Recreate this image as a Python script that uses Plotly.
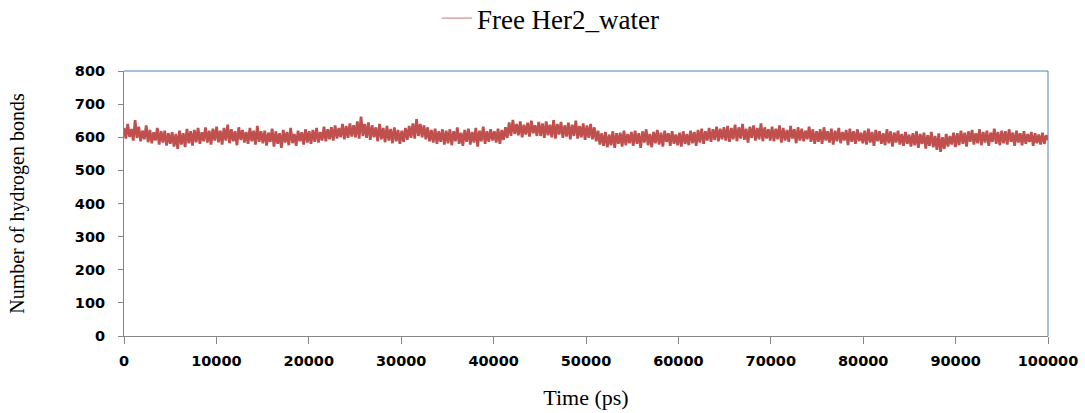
import numpy as np
import plotly.graph_objects as go

# Number of hydrogen bonds (500 samples, 0..100000 ps)
hbonds = [
    628, 596, 640, 601, 625, 590, 652, 598, 632, 588, 620, 594, 636, 585, 622, 582, 615, 590, 628, 578, 618, 584, 620, 575, 612,
    580, 615, 572, 610, 565, 620, 578, 612, 570, 625, 582, 618, 575, 622, 585, 628, 580, 615, 588, 630, 584, 620, 578, 626, 590,
    632, 585, 620, 578, 628, 590, 638, 582, 624, 588, 618, 576, 630, 592, 622, 584, 616, 580, 628, 588, 620, 578, 634, 586, 618,
    582, 620, 575, 614, 586, 626, 572, 618, 580, 612, 568, 622, 584, 616, 576, 628, 582, 610, 574, 620, 588, 615, 578, 624, 584,
    618, 580, 622, 586, 628, 584, 616, 590, 632, 588, 624, 594, 630, 590, 636, 596, 628, 600, 640, 594, 634, 598, 642, 602, 636,
    600, 648, 596, 662, 604, 640, 598, 645, 592, 636, 600, 630, 588, 640, 594, 628, 585, 634, 590, 625, 582, 630, 588, 622, 580,
    620, 586, 628, 592, 634, 598, 642, 596, 655, 604, 640, 600, 636, 594, 630, 588, 622, 584, 626, 580, 618, 586, 624, 578, 620,
    582, 624, 576, 618, 588, 630, 580, 614, 574, 622, 586, 626, 578, 616, 584, 628, 572, 620, 588, 632, 580, 618, 586, 624, 590,
    618, 584, 626, 580, 622, 592, 630, 598, 645, 604, 652, 610, 640, 606, 648, 600, 638, 608, 644, 602, 650, 612, 636, 604, 646,
    604, 642, 598, 648, 606, 638, 600, 652, 596, 640, 608, 646, 598, 636, 602, 644, 594, 638, 604, 650, 596, 634, 600, 642, 592,
    636, 598, 640, 594, 630, 588, 620, 578, 612, 574, 616, 570, 608, 576, 618, 568, 612, 580, 614, 572, 620, 576, 610, 582, 616,
    574, 620, 580, 612, 568, 618, 584, 624, 576, 610, 570, 616, 582, 622, 578, 614, 572, 620, 586, 612, 574, 618, 580, 608, 576,
    614, 572, 618, 580, 610, 576, 620, 582, 616, 574, 622, 584, 626, 580, 618, 590, 628, 586, 624, 592, 632, 588, 626, 594, 630,
    590, 634, 586, 628, 594, 638, 588, 630, 596, 640, 592, 626, 584, 632, 598, 636, 590, 628, 594, 642, 588, 630, 596, 624, 590,
    632, 588, 626, 594, 636, 584, 628, 590, 622, 586, 634, 596, 624, 582, 630, 590, 626, 588, 620, 594, 632, 586, 624, 580, 618,
    586, 624, 580, 630, 590, 618, 584, 626, 578, 620, 588, 628, 582, 616, 590, 622, 576, 626, 586, 618, 580, 624, 588, 614, 582,
    620, 578, 626, 584, 616, 574, 622, 588, 618, 580, 612, 576, 624, 582, 618, 572, 614, 584, 620, 578, 610, 574, 616, 580, 608,
    572, 612, 576, 618, 568, 610, 580, 614, 566, 606, 574, 616, 570, 604, 562, 612, 556, 600, 565, 610, 572, 604, 578, 614, 570,
    612, 576, 620, 580, 614, 572, 618, 586, 622, 578, 612, 582, 624, 576, 616, 584, 620, 574, 614, 586, 626, 580, 616, 576, 620,
    582, 618, 578, 624, 586, 614, 574, 620, 584, 612, 576, 618, 580, 610, 586, 616, 574, 612, 582, 608, 578, 614, 580, 606, 592,
]
time_ps = np.linspace(0, 100000, len(hbonds))
series_name = "Free Her2_water"

x_ticks = [0, 10000, 20000, 30000, 40000, 50000, 60000, 70000, 80000, 90000, 100000]
y_ticks = [0, 100, 200, 300, 400, 500, 600, 700, 800]

fig = go.Figure()
fig.add_trace(go.Scatter(
    x=time_ps, y=hbonds, mode="lines", name=series_name, legendgroup="s",
    line=dict(color="#C0504D", width=2.7), showlegend=False,
))
# legend entry with the thin sample line seen in the reference
fig.add_trace(go.Scatter(
    x=[None], y=[None], mode="lines", name=series_name, legendgroup="s",
    line=dict(color="#C98E8C", width=1.2), showlegend=True,
))

serif = "Liberation Serif"
tickfont = dict(family="DejaVu Sans", size=14.5, color="#000000", weight="bold")

fig.update_layout(
    width=1085, height=413,
    margin=dict(l=124, r=37, t=71, b=77),
    paper_bgcolor="white", plot_bgcolor="white",
    showlegend=True,
    legend=dict(orientation="h", x=0.462, xanchor="center", yref="container", y=0.955,
                yanchor="middle", font=dict(family=serif, size=27, color="#000000"),
                itemwidth=30, tracegroupgap=0),
    xaxis=dict(range=[0, 100000], tickmode="array", tickvals=x_ticks,
               ticktext=[str(v) for v in x_ticks], showgrid=False, zeroline=False,
               showline=True, linecolor="#868686", linewidth=1, automargin=False,
               ticks="outside", ticklen=7, tickcolor="#868686", tickfont=tickfont,
               ticklabelstandoff=5,
               title=dict(text="Time (ps)", font=dict(family=serif, size=22, color="#000000"),
                          standoff=21)),
    yaxis=dict(range=[0, 800], tickmode="array", tickvals=y_ticks,
               ticktext=[str(v) for v in y_ticks], showgrid=False, zeroline=False,
               showline=True, linecolor="#868686", linewidth=1, automargin=False,
               ticks="outside", ticklen=5, tickcolor="#868686", tickfont=tickfont,
               ticklabelstandoff=10,
               title=dict(text="Number of hydrogen bonds",
                          font=dict(family=serif, size=20, color="#000000"), standoff=44)),
    shapes=[
        dict(type="line", xref="paper", yref="paper", x0=0, x1=1, y0=1, y1=1,
             line=dict(color="#4F81BD", width=1)),
        dict(type="line", xref="paper", yref="paper", x0=1, x1=1, y0=0, y1=1,
             line=dict(color="#4F81BD", width=1)),
    ],
)

fig.write_html("out.html")
